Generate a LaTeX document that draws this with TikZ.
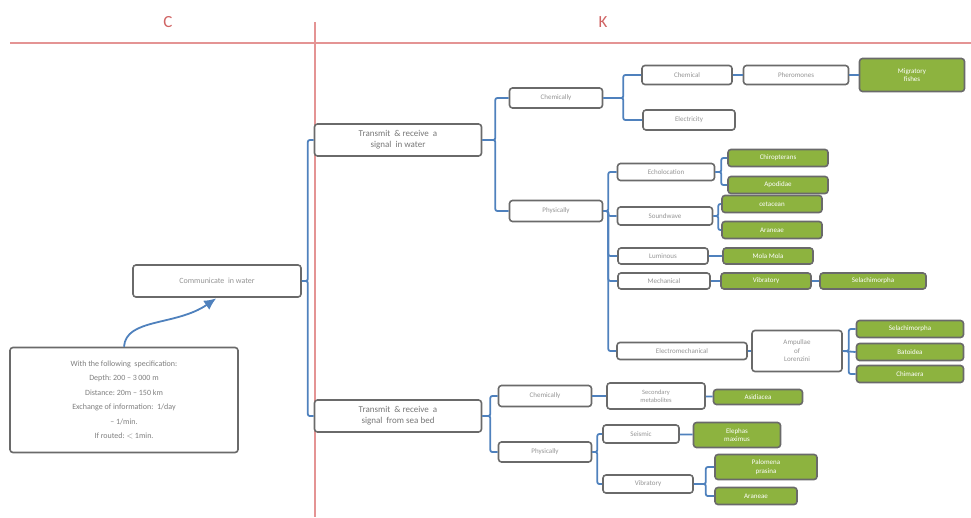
\documentclass[tikz,border=0pt]{standalone}
\usepackage{fontspec}
\setmainfont{Carlito}
\usetikzlibrary{arrows.meta}
\definecolor{boxline}{HTML}{6A6A6A}
\definecolor{boxtext}{HTML}{959595}
\definecolor{leafgreen}{HTML}{8DB33F}
\definecolor{linkblue}{HTML}{4F81BD}
\definecolor{axisred}{HTML}{E49494}
\definecolor{headred}{HTML}{D06464}
\begin{document}
\begin{tikzpicture}[
    x=1pt, y=-1pt,
    >={Latex[length=12pt,width=11pt]},
    every node/.style={font=\fontsize{7}{8.5}\selectfont},
    sz/.style 2 args={minimum width=#1pt, minimum height=#2pt},
    wbox/.style={draw=boxline, line width=1.6pt, rounded corners=3pt,
                 fill=white, text=boxtext, align=center, inner sep=1pt},
    gbox/.style={wbox, fill=leafgreen, text=white},
    link/.style={draw=linkblue, line width=1.8pt, rounded corners=2pt},
    axis/.style={draw=axisred, line width=1.4pt},
    head/.style={text=headred, font=\fontsize{17}{19}\selectfont},
]
\useasboundingbox (0,0) rectangle (971,517);
% C / K header
\draw[axis] (10,43) -- (971,43);
\draw[axis] (315,22) -- (315,517);
\node[head] (hc) at (168,22) {C};
\node[head] (hk) at (603,22) {K};

% requirement side
\node[wbox, sz={168}{32}, font=\fontsize{8}{9}\selectfont] (comm) at (217,281) {Communicate\ \ in water};
\node[wbox, sz={228}{105}, font=\fontsize{8}{14.5}\selectfont, text=boxtext!85!black] (spec) at (124,400)
     {With the following\ \ specification:\\ Depth:\ 200 -- 3\,000 m\\ Distance:\ 20m -- 150 km\\
      Exchange of information:\ \ 1/day\\ -- 1/min.\\ If routed:\ $<$ 1min.};
\draw[link, ->, rounded corners=0pt, shorten >=1pt] (spec.north) .. controls (126,318) and (176,326) .. (comm.south);

% first level
\node[wbox, sz={167}{32}, font=\fontsize{9}{11}\selectfont, text=boxtext!80!black] (txwater) at (398,140)
     {Transmit\ \ \& receive\ \ a\\ signal\ \ in water};
\node[wbox, sz={167}{32}, font=\fontsize{9}{11}\selectfont, text=boxtext!80!black] (txbed) at (398,416)
     {Transmit\ \ \& receive\ \ a\\ signal\ \ from sea bed};
\draw[link] (comm.east) -- ++(6,0) |- (txwater.west);
\draw[link] (comm.east) -- ++(6,0) |- (txbed.west);

% signal in water
\node[wbox, sz={93}{20}] (chemw) at (556,98) {Chemically};
\node[wbox, sz={93}{21}] (physw) at (556,211) {Physically};
\draw[link] (txwater.east) -- ++(13,0) |- (chemw.west);
\draw[link] (txwater.east) -- ++(13,0) |- (physw.west);

\node[wbox, sz={90}{19}] (chemical) at (687,75) {Chemical};
\node[wbox, sz={92}{20}] (electricity) at (689,120) {Electricity};
\node[wbox, sz={105}{19}] (pheromones) at (796,75) {Pheromones};
\node[gbox, sz={105}{33}] (migratory) at (912,75) {Migratory\\ fishes};
\draw[link] (chemw.east) -- ++(20,0) |- (chemical.west);
\draw[link] (chemw.east) -- ++(20,0) |- (electricity.west);
\draw[link] (chemical) -- (pheromones);
\draw[link] (pheromones) -- (migratory);

\node[wbox, sz={97}{17}] (echo) at (666,172) {Echolocation};
\node[wbox, sz={95}{18}] (sound) at (665,216) {Soundwave};
\node[wbox, sz={90}{16}] (lumin) at (663,256) {Luminous};
\node[wbox, sz={92}{16}] (mech) at (664,281) {Mechanical};
\node[wbox, sz={130}{17}] (elmech) at (682,351) {Electromechanical};
\draw[link] (physw.east) -- ++(5,0) |- (echo.west);
\draw[link] (physw.east) -- ++(5,0) |- (sound.west);
\draw[link] (physw.east) -- ++(5,0) |- (lumin.west);
\draw[link] (physw.east) -- ++(5,0) |- (mech.west);
\draw[link] (physw.east) -- ++(5,0) |- (elmech.west);

\node[gbox, sz={100}{17}] (chiro) at (778,158) {Chiropterans};
\node[gbox, sz={100}{17}] (apod) at (778,185) {Apodidae};
\node[gbox, sz={100}{17}] (cetac) at (772,204) {cetacean};
\node[gbox, sz={100}{17}] (aran) at (772,230) {Araneae};
\node[gbox, sz={90}{16}] (mola) at (768,256) {Mola Mola};
\node[gbox, sz={90}{16}] (vibr) at (766,281) {Vibratory};
\node[gbox, sz={106}{16}] (selach) at (873,281) {Selachimorpha};
\draw[link] (echo.east) -- ++(6,0) |- (chiro.west);
\draw[link] (echo.east) -- ++(6,0) |- (apod.west);
\draw[link] (sound.east) -- ++(5,0) |- (cetac.west);
\draw[link] (sound.east) -- ++(5,0) |- (aran.west);
\draw[link] (lumin) -- (mola);
\draw[link] (mech) -- (vibr);
\draw[link] (vibr) -- (selach);

\node[wbox, sz={90}{41}] (ampul) at (797,351) {Ampullae\\ of\\ Lorenzini};
\node[gbox, sz={107}{17}] (selachb) at (910,329) {Selachimorpha};
\node[gbox, sz={107}{17}] (batoid) at (910,352) {Batoidea};
\node[gbox, sz={107}{17}] (chimae) at (910,374) {Chimaera};
\draw[link] (elmech) -- (ampul);
\draw[link] (ampul.east) -- ++(6,0) |- (selachb.west);
\draw[link] (ampul.east) -- (batoid.west);
\draw[link] (ampul.east) -- ++(6,0) |- (chimae.west);

% signal from sea bed
\node[wbox, sz={93}{21}] (chemb) at (545,396) {Chemically};
\node[wbox, sz={93}{20}] (physb) at (545,452) {Physically};
\draw[link] (txbed.east) -- ++(8,0) |- (chemb.west);
\draw[link] (txbed.east) -- ++(8,0) |- (physb.west);

\node[wbox, sz={98}{26}, font=\fontsize{6.5}{8}\selectfont] (secmet) at (656,396) {Secondary\\ metabolites};
\node[gbox, sz={89}{15}] (asid) at (758,397) {Asidiacea};
\draw[link] (chemb) -- (secmet);
\draw[link] (secmet) -- (asid);

\node[wbox, sz={76}{18}] (seism) at (641,434) {Seismic};
\node[wbox, sz={90}{18}] (vibrb) at (648,484) {Vibratory};
\node[gbox, sz={87}{25}] (eleph) at (737,435) {Elephas\\ maximus};
\node[gbox, sz={102}{25}] (palom) at (766,467) {Palomena\\ prasina};
\node[gbox, sz={82}{17}] (aranb) at (756,496) {Araneae};
\draw[link] (physb.east) -- ++(5,0) |- (seism.west);
\draw[link] (physb.east) -- ++(5,0) |- (vibrb.west);
\draw[link] (seism) -- (eleph);
\draw[link] (vibrb.east) -- ++(12,0) |- (palom.west);
\draw[link] (vibrb.east) -- ++(12,0) |- (aranb.west);
\end{tikzpicture}
\end{document}
